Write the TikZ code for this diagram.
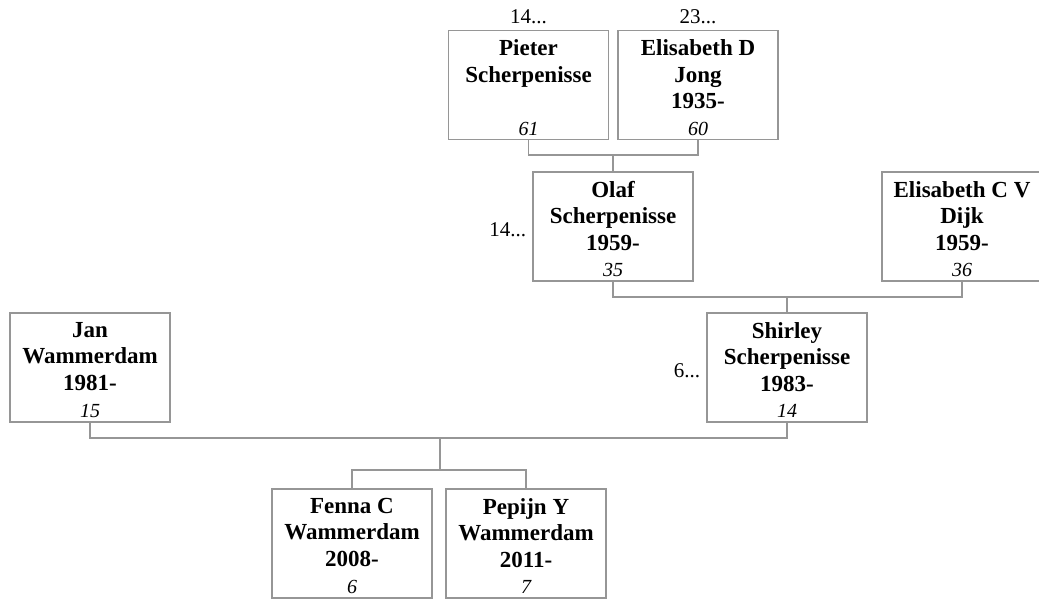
\documentclass[tikz,border=0pt]{standalone}
\usepackage{fontspec}
\setmainfont{Liberation Serif}
\usepackage{xcolor}
\definecolor{LineCol}{RGB}{150,150,150}
\usepackage{tikz}
\tikzstyle{Person}=[rectangle,draw=LineCol,line width=1.2pt,
minimum width=160pt,minimum height=109pt,inner sep=0pt]
\tikzstyle{Edge}=[draw=LineCol,line width=1.2pt]
\tikzstyle{NameST}=[anchor=north,align=center,inner sep=0pt,
execute at begin node={\strut},
font=\fontsize{23}{26.5}\selectfont\bfseries]
\tikzstyle{AgeST}=[anchor=base,inner sep=0pt,font=\fontsize{20}{22}\selectfont\itshape]
\tikzstyle{RefST}=[inner sep=0pt,font=\fontsize{21}{24}\selectfont]

\begin{document}
\begin{tikzpicture}[x=1pt,y=-1pt]
    \path[use as bounding box](0,0)rectangle(1039,599);
    \clip(0,0)rectangle(1039,599);
        % grandparents
        \node[Person](pieter)at(528.5,85){};
        \node[NameST](pieterN)at([yshift=-9.5pt]pieter.north){Pieter\\Scherpenisse};
        \node[AgeST](pieterA)at([yshift=5pt]pieter.south){61};
        \node[Person](elisD)at(698,85){};
        \node[NameST](elisDN)at([yshift=-9.5pt]elisD.north){Elisabeth D\\Jong\\1935-};
        \node[AgeST](elisDA)at([yshift=5pt]elisD.south){60};
        \node[RefST,anchor=base](pieterR)at([yshift=6pt]pieter.north){14...};
        \node[RefST,anchor=base](elisDR)at([yshift=6pt]elisD.north){23...};
        % parents of Shirley
        \node[Person](olaf)at(613,226.5){};
        \node[NameST](olafN)at([yshift=-9.5pt]olaf.north){Olaf\\Scherpenisse\\1959-};
        \node[AgeST](olafA)at([yshift=5pt]olaf.south){35};
        \node[RefST,anchor=base east](olafR)at([shift={(-6pt,-9.5pt)}]olaf.west){14...};
        \node[Person](elisC)at(962,226.5){};
        \node[NameST](elisCN)at([yshift=-9.5pt]elisC.north){Elisabeth C V\\Dijk\\1959-};
        \node[AgeST](elisCA)at([yshift=5pt]elisC.south){36};
        % parents
        \node[Person](jan)at(90,367.5){};
        \node[NameST](janN)at([yshift=-9.5pt]jan.north){Jan\\Wammerdam\\1981-};
        \node[AgeST](janA)at([yshift=5pt]jan.south){15};
        \node[Person](shirley)at(787,367.5){};
        \node[NameST](shirleyN)at([yshift=-9.5pt]shirley.north){Shirley\\Scherpenisse\\1983-};
        \node[AgeST](shirleyA)at([yshift=5pt]shirley.south){14};
        \node[RefST,anchor=base east](shirleyR)at([shift={(-6pt,-9.5pt)}]shirley.west){6...};
        % children
        \node[Person](fenna)at(352,543.5){};
        \node[NameST](fennaN)at([yshift=-9.5pt]fenna.north){Fenna C\\Wammerdam\\2008-};
        \node[AgeST](fennaA)at([yshift=5pt]fenna.south){6};
        \node[Person](pepijn)at(526,543.5){};
        \node[NameST](pepijnN)at([yshift=-9.5pt]pepijn.north){Pepijn Y\\Wammerdam\\2011-};
        \node[AgeST](pepijnA)at([yshift=5pt]pepijn.south){7};
        % couple links
        \coordinate(u1)at(613,155);
        \coordinate(u2)at(787,297);
        \coordinate(u3)at(440,438);
        \coordinate(u4)at(440,470);
        \draw[Edge](pieter.south)|-(u1)-|(elisD.south);
        \draw[Edge](u1)--(olaf.north);
        \draw[Edge](olaf.south)|-(u2)-|(elisC.south);
        \draw[Edge](u2)--(shirley.north);
        \draw[Edge](jan.south)|-(u3)-|(shirley.south);
        \draw[Edge](u3)--(u4);
        \draw[Edge](fenna.north)|-(u4)-|(pepijn.north);
    \end{tikzpicture}
\end{document}
